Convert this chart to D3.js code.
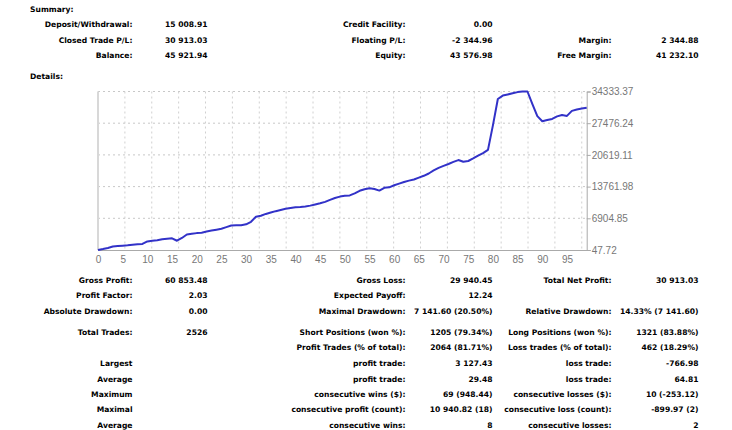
<!DOCTYPE html>
<html><head><meta charset="utf-8">
<script src="https://cdn.jsdelivr.net/npm/d3@7/dist/d3.min.js"></script>
<style>body{margin:0;background:#fff}svg{display:block}</style>
</head><body><svg id="c" width="732" height="430"></svg>
<script>
// ---- data ----
const balance = [48,250,480,800,900,990,1080,1200,1280,1350,
 1900,2050,2150,2360,2480,2580,2050,2650,3400,3550,
 3700,3800,4050,4250,4450,4650,5000,5350,5400,5420,
 5600,6150,7250,7450,7850,8150,8450,8700,8950,9150,
 9300,9350,9450,9650,9900,10150,10450,10900,11300,11600,
 11780,11850,12300,12850,13200,13390,13250,12900,13500,13600,
 14050,14400,14750,15050,15300,15700,16100,16600,17250,17800,
 18250,18650,19100,19500,19150,19300,19850,20450,21000,21700,
 27000,32700,33450,33700,33950,34200,34320,34333,31600,29000,
 27900,28150,28400,28950,29250,29050,30150,30450,30650,30830];
const xTicks = [0,5,10,15,20,25,30,35,40,45,50,55,60,65,70,75,80,85,90,95];
const yTicks = [47.72, 6904.85, 13761.98, 20619.11, 27476.24, 34333.37];
const yTickLabels = ["47.72","6904.85","13761.98","20619.11","27476.24","34333.37"];

const summaryCol1 = [["Deposit/Withdrawal:","15 008.91"],["Closed Trade P/L:","30 913.03"],["Balance:","45 921.94"]];
const summaryCol2 = [["Credit Facility:","0.00"],["Floating P/L:","-2 344.96"],["Equity:","43 576.98"]];
const summaryCol3 = [["",""],["Margin:","2 344.88"],["Free Margin:","41 232.10"]];

const detailRows = [
 ["Gross Profit:","60 853.48","Gross Loss:","29 940.45","Total Net Profit:","30 913.03"],
 ["Profit Factor:","2.03","Expected Payoff:","12.24","",""],
 ["Absolute Drawdown:","0.00","Maximal Drawdown:","7 141.60 (20.50%)","Relative Drawdown:","14.33% (7 141.60)"],
 ["Total Trades:","2526","Short Positions (won %):","1205 (79.34%)","Long Positions (won %):","1321 (83.88%)"],
 ["","","Profit Trades (% of total):","2064 (81.71%)","Loss trades (% of total):","462 (18.29%)"],
 ["Largest","","profit trade:","3 127.43","loss trade:","-766.98"],
 ["Average","","profit trade:","29.48","loss trade:","64.81"],
 ["Maximum","","consecutive wins ($):","69 (948.44)","consecutive losses ($):","10 (-253.12)"],
 ["Maximal","","consecutive profit (count):","10 940.82 (18)","consecutive loss (count):","-899.97 (2)"],
 ["Average","","consecutive wins:","8","consecutive losses:","2"]
];

// ---- layout ----
const svg = d3.select("#c");
const font = "'DejaVu Sans', Verdana, sans-serif";
const fs = 7.6;
const colRight = [132.5, 207.5, 405.5, 492.5, 611.5, 698.5];

function txt(x, y, s, anchor){
  svg.append("text").attr("x",x).attr("y",y).attr("dy","0.35em")
    .attr("text-anchor",anchor).attr("font-family",font).attr("font-size",fs)
    .attr("font-weight","bold").attr("fill","#000").text(s);
}
txt(30, 9, "Summary:", "start");
txt(30, 76, "Details:", "start");
const sumY = [24.5, 40, 55.5];
[summaryCol1, summaryCol2, summaryCol3].forEach((col, ci) => {
  col.forEach((r, ri) => {
    txt(colRight[ci*2], sumY[ri], r[0], "end");
    txt(colRight[ci*2+1], sumY[ri], r[1], "end");
  });
});
const detY = [280, 295.5, 311, 332, 347.5, 363, 379, 394.3, 409.5, 425];
detailRows.forEach((r, ri) => {
  r.forEach((s, ci) => { if (s) txt(colRight[ci], detY[ri], s, "end"); });
});

// ---- chart ----
const L = 98, R = 586.7, T = 91.5, B = 250;
const x = d3.scaleLinear().domain([0, 99]).range([L, R]);
const y = d3.scaleLinear().domain([yTicks[0], yTicks[yTicks.length-1]]).range([B, T]);

const g = svg.append("g");
// horizontal grid
g.selectAll("line.hg").data(yTicks.slice(1)).enter().append("line")
  .attr("x1", L).attr("x2", R).attr("y1", d=>y(d)).attr("y2", d=>y(d))
  .attr("stroke","#c8c8c8").attr("stroke-width",1).attr("stroke-dasharray","2,3");
// vertical grid
const vgrid = d3.range(1, 19).map(i => i * 98 / 18);
g.selectAll("line.vg").data(vgrid).enter().append("line")
  .attr("x1", d=>x(d)).attr("x2", d=>x(d)).attr("y1", T).attr("y2", B)
  .attr("stroke","#d0d0d0").attr("stroke-width",1).attr("stroke-dasharray","2,3");
// left border
g.append("line").attr("x1",L).attr("x2",L).attr("y1",T).attr("y2",B)
  .attr("stroke","#d8d8d8").attr("stroke-width",2);

// x axis
const xa = svg.append("g").attr("transform",`translate(0,${B})`)
  .call(d3.axisBottom(x).tickValues(xTicks).tickSize(0).tickPadding(6).tickFormat(d3.format("d")));
xa.select(".domain").attr("stroke","#aaa");
xa.selectAll("text").attr("font-family","'Liberation Sans', Arial, sans-serif").attr("font-size",10).attr("fill","#777");

// y axis right
const ya = svg.append("g").attr("transform",`translate(${R},0)`)
  .call(d3.axisRight(y).tickValues(yTicks).tickSize(4).tickPadding(1).tickFormat((d,i)=>yTickLabels[i]));
ya.select(".domain").attr("stroke","#aaa");
ya.selectAll(".tick line").attr("stroke","#aaa");
ya.selectAll("text").attr("font-family","'Liberation Sans', Arial, sans-serif").attr("font-size",10).attr("fill","#777");

// line
svg.append("path").datum(balance)
  .attr("fill","none").attr("stroke","#3232c8").attr("stroke-width",2)
  .attr("stroke-linejoin","round")
  .attr("d", d3.line().x((d,i)=>x(i)).y(d=>y(d)));
</script></body></html>
